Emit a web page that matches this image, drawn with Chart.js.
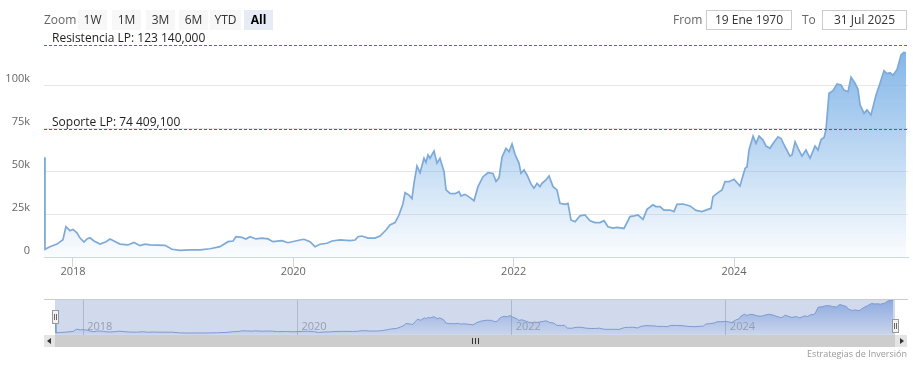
<!DOCTYPE html>
<html>
<head>
<meta charset="utf-8">
<script src="https://cdn.jsdelivr.net/npm/chart.js@4.4.0/dist/chart.umd.min.js"></script>
<style>
  body { margin: 0; background: #fff; font-family: "Open Sans", sans-serif; }
  #wrap { position: relative; width: 920px; height: 365px; overflow: hidden; }
  canvas { position: absolute; left: 0; }
  #main { top: 0; }
  #nav { top: 290px; }
  .lbl { position: absolute; font-size: 12px; color: #666; line-height: 20px; top: 10px; }
  .btn { position: absolute; top: 10px; height: 20px; line-height: 20px; width: 29px; text-align: center;
         font-size: 12px; color: #333; background: #f7f7f7; }
  .btn.sel { background: #e6ebf5; color: #000; font-weight: bold; }
  .inp { position: absolute; top: 10px; height: 18px; line-height: 18px; border: 1px solid #cccccc; text-align: center;
         font-size: 12px; color: #333; }
  #track { position: absolute; left: 44px; top: 335px; width: 863px; height: 12px; background: #cdcdcd; }
  .sbtn { position: absolute; top: 335px; width: 11px; height: 12px; background: #e4e4e4; }
  .arr { position: absolute; top: 3px; width: 0; height: 0; border-top: 3px solid transparent; border-bottom: 3px solid transparent; }
  .grip { position: absolute; top: 338px; width: 1px; height: 6px; background: #333; }
  #credits { position: absolute; right: 13px; top: 347px; font-size: 9px; color: #999; }
</style>
</head>
<body>
<div id="wrap">
  <canvas id="main" width="920" height="290"></canvas>
  <canvas id="nav" width="920" height="60"></canvas>

  <div class="lbl" style="left:44px">Zoom</div>
  <div class="btn" style="left:78px">1W</div>
  <div class="btn" style="left:112px">1M</div>
  <div class="btn" style="left:146px">3M</div>
  <div class="btn" style="left:179px">6M</div>
  <div class="btn" style="left:210px;width:31px">YTD</div>
  <div class="btn sel" style="left:244px">All</div>

  <div class="lbl" style="left:673px">From</div>
  <div class="inp" style="left:706px;width:84px">19 Ene 1970</div>
  <div class="lbl" style="left:802px">To</div>
  <div class="inp" style="left:822px;width:83px">31 Jul 2025</div>

  <div id="track"></div>
  <div class="sbtn" style="left:44px"><div class="arr" style="left:3px;border-right:4px solid #333"></div></div>
  <div class="sbtn" style="left:895px;width:12px"><div class="arr" style="left:5px;border-left:4px solid #333"></div></div>
  <div class="grip" style="left:472px"></div>
  <div class="grip" style="left:475px"></div>
  <div class="grip" style="left:478px"></div>

  <div id="credits">Estrategias de Inversión</div>
</div>

<script>
// Fecha como año decimal, precio en miles
const years = [
  2017.737, 2017.746, 2017.791, 2017.855, 2017.909, 2017.936, 2017.973, 2018.000, 2018.036, 2018.064,
  2018.100, 2018.127, 2018.154, 2018.191, 2018.245, 2018.300, 2018.336, 2018.381, 2018.427, 2018.499,
  2018.554, 2018.608, 2018.654, 2018.699, 2018.835, 2018.899, 2018.971, 2019.062, 2019.153, 2019.244,
  2019.334, 2019.407, 2019.452, 2019.480, 2019.534, 2019.570, 2019.607, 2019.661, 2019.716, 2019.770,
  2019.815, 2019.897, 2019.951, 2020.060, 2020.097, 2020.151, 2020.197, 2020.242, 2020.306, 2020.351,
  2020.424, 2020.514, 2020.560, 2020.587, 2020.623, 2020.678, 2020.741, 2020.787, 2020.841, 2020.877,
  2020.923, 2020.959, 2020.995, 2021.014, 2021.050, 2021.077, 2021.095, 2021.122, 2021.150, 2021.186,
  2021.204, 2021.222, 2021.240, 2021.277, 2021.304, 2021.331, 2021.368, 2021.386, 2021.422, 2021.467,
  2021.504, 2021.522, 2021.558, 2021.604, 2021.640, 2021.676, 2021.722, 2021.767, 2021.812, 2021.840,
  2021.867, 2021.894, 2021.930, 2021.958, 2021.985, 2022.012, 2022.048, 2022.066, 2022.094, 2022.121,
  2022.157, 2022.184, 2022.212, 2022.239, 2022.257, 2022.293, 2022.321, 2022.357, 2022.393, 2022.420,
  2022.466, 2022.493, 2022.520, 2022.557, 2022.602, 2022.647, 2022.693, 2022.738, 2022.784, 2022.820,
  2022.856, 2022.902, 2022.938, 2023.001, 2023.056, 2023.092, 2023.128, 2023.174, 2023.210, 2023.264,
  2023.292, 2023.328, 2023.364, 2023.418, 2023.455, 2023.482, 2023.537, 2023.600, 2023.655, 2023.709,
  2023.764, 2023.791, 2023.809, 2023.855, 2023.891, 2023.918, 2023.955, 2024.000, 2024.054, 2024.100,
  2024.118, 2024.136, 2024.173, 2024.200, 2024.227, 2024.263, 2024.291, 2024.327, 2024.354, 2024.399,
  2024.427, 2024.463, 2024.508, 2024.526, 2024.554, 2024.581, 2024.617, 2024.653, 2024.690, 2024.735,
  2024.762, 2024.790, 2024.817, 2024.835, 2024.862, 2024.898, 2024.935, 2024.971, 2024.998, 2025.035,
  2025.062, 2025.098, 2025.125, 2025.144, 2025.180, 2025.207, 2025.243, 2025.289, 2025.325, 2025.361,
  2025.389, 2025.416, 2025.443, 2025.480, 2025.516, 2025.543, 2025.561
];
const prices = [
  58, 4.5, 6, 7.5, 10, 17.6, 15.3, 16, 14, 11,
  8.7, 10.5, 11.2, 9.3, 7.5, 8.9, 10.5, 9, 7.5, 7,
  8.5, 6.6, 7.5, 7, 6.8, 4.5, 3.9, 4.1, 4.1, 4.8,
  6, 8.9, 9.3, 11.8, 11.4, 10.5, 11.8, 10.5, 11, 10.5,
  8.9, 9.5, 8.3, 9.9, 10.3, 8.9, 6, 7.4, 8, 9.3,
  9.9, 9.5, 9.9, 11.8, 12.2, 11, 11, 12.2, 15.7, 18.6,
  20, 24.4, 31, 37.4, 36, 34, 42.8, 52.9, 49, 57.4,
  55, 59.3, 57.4, 61.6, 54.6, 57.4, 49.6, 39, 37, 36.8,
  38, 35.5, 36.4, 34.5, 32.7, 40.9, 46.7, 49, 48.6, 44,
  46, 58, 63.2, 61.2, 65.7, 59.7, 54.6, 48.7, 50.6, 47.7,
  42.5, 40, 42.8, 40.9, 42.8, 44.8, 47.1, 40.9, 39, 31.2,
  30.6, 31.2, 21.5, 20.5, 23.9, 24.4, 21.1, 20, 20, 21.1,
  17.6, 16.8, 17.2, 16.6, 23.5, 23.9, 24.4, 21.9, 27.7, 30.3,
  29.3, 29.3, 27.3, 27.3, 26.4, 30.6, 30.8, 29.7, 27.1, 26.4,
  27.7, 28.3, 35.1, 37.4, 39, 43.8, 43.8, 45.2, 41.3, 51.5,
  52.5, 62.2, 70.3, 66, 70.3, 68, 64.5, 63.2, 66, 69.9,
  68.9, 64.1, 58.7, 59.3, 67, 63.2, 58.7, 62.2, 57.4, 64.5,
  62.2, 68.3, 69.5, 74.2, 95.2, 96.7, 100.6, 100, 97, 96.1,
  104.5, 101, 97.5, 88.4, 83.5, 85.5, 82.6, 94.2, 101, 108.3,
  106.6, 107.2, 105.7, 109, 117.4, 119, 118.5
];
const yearTicks = [2018, 2020, 2022, 2024];
const priceTicks = [0, 25, 50, 75, 100];
const levelNames = ["Resistencia LP: 123 140,000", "Soporte LP: 74 409,100"];
const levelValues = [123.14, 74.4091];

const X_MIN = 2017.737, X_MAX = 2025.579;
const FONT = "'Open Sans', sans-serif";
const points = years.map((x, i) => ({ x: x, y: prices[i] }));

function areaFill(top, bottom) {
  return function (context) {
    const area = context.chart.chartArea;
    if (!area) return null;
    const g = context.chart.ctx.createLinearGradient(0, area.top, 0, area.bottom);
    g.addColorStop(0, top);
    g.addColorStop(1, bottom);
    return g;
  };
}

// Lineas de soporte / resistencia con su texto
const levelsPlugin = {
  id: "levels",
  afterDatasetsDraw(chart) {
    const ctx = chart.ctx, a = chart.chartArea, y = chart.scales.y;
    const colors = ["#3f8a3f", "#cc3333"];
    levelValues.forEach((v, i) => {
      const py = Math.round(y.getPixelForValue(v)) + 0.5;
      ctx.save();
      ctx.strokeStyle = colors[i];
      ctx.lineWidth = 1;
      ctx.setLineDash([3, 2]);
      ctx.beginPath();
      ctx.moveTo(a.left, py);
      ctx.lineTo(a.right, py);
      ctx.stroke();
      ctx.setLineDash([]);
      ctx.fillStyle = "#222";
      ctx.font = "12px " + FONT;
      ctx.textBaseline = "middle";
      ctx.fillText(levelNames[i], a.left + 8, py - 7);
      ctx.restore();
    });
  }
};

new Chart(document.getElementById("main").getContext("2d"), {
  type: "line",
  data: {
    datasets: [{
      data: points,
      borderColor: "#7eaad8",
      borderWidth: 1.7,
      pointRadius: 0,
      tension: 0,
      fill: "origin",
      backgroundColor: areaFill("rgba(120,175,230,0.95)", "rgba(120,175,230,0.03)"),
    }],
  },
  options: {
    responsive: false,
    animation: false,
    layout: { padding: { top: 42, right: 12, left: 0, bottom: 0 } },
    plugins: { legend: { display: false }, tooltip: { enabled: false } },
    scales: {
      x: {
        type: "linear",
        min: X_MIN,
        max: X_MAX,
        afterBuildTicks: s => { s.ticks = yearTicks.map(v => ({ value: v })); },
        afterFit: s => { s.height = 33; },
        grid: { drawOnChartArea: false, drawTicks: true, tickLength: 10, color: "#ccd6eb" },
        border: { color: "#ccd6eb", width: 1 },
        ticks: { padding: -2, color: "#666", maxRotation: 0, font: { family: FONT, size: 11 }, callback: v => String(v) },
      },
      y: {
        min: 0,
        max: 125,
        afterBuildTicks: s => { s.ticks = priceTicks.map(v => ({ value: v })); },
        afterFit: s => { s.width = 44; },
        grid: { color: "#e6e6e6", drawTicks: false },
        border: { display: false },
        ticks: { padding: 14, labelOffset: -6, color: "#666", font: { family: FONT, size: 11 }, callback: v => v === 0 ? "0" : v + "k" },
      },
    },
  },
  plugins: [levelsPlugin],
});

// Navegador inferior
const navPlugin = {
  id: "navigator",
  beforeDraw(chart) {
    const ctx = chart.ctx, a = chart.chartArea;
    ctx.save();
    ctx.fillStyle = "#d1daed";
    ctx.fillRect(a.left, a.top, a.right - a.left, a.bottom - a.top);
    ctx.restore();
  },
  afterDraw(chart) {
    const ctx = chart.ctx, a = chart.chartArea, x = chart.scales.x;
    ctx.save();
    ctx.strokeStyle = "#cccccc";
    ctx.lineWidth = 1;
    ctx.beginPath();
    ctx.moveTo(44, a.top + 0.5);
    ctx.lineTo(908, a.top + 0.5);
    ctx.stroke();
    ctx.fillStyle = "#959db0";
    ctx.font = "11px " + FONT;
    ctx.textBaseline = "middle";
    yearTicks.forEach(v => ctx.fillText(String(v), x.getPixelForValue(v) + 4, 37));
    // asas
    [[a.left, 20], [a.right, 29]].forEach(([hx, hy]) => {
      ctx.fillStyle = "#f2f2f2";
      ctx.strokeStyle = "#999";
      ctx.fillRect(Math.round(hx) - 3, hy, 6, 13);
      ctx.strokeRect(Math.round(hx) - 3 + 0.5, hy + 0.5, 6, 13);
      ctx.strokeStyle = "#666";
      ctx.beginPath();
      ctx.moveTo(Math.round(hx) - 0.5, hy + 4); ctx.lineTo(Math.round(hx) - 0.5, hy + 10);
      ctx.moveTo(Math.round(hx) + 1.5, hy + 4); ctx.lineTo(Math.round(hx) + 1.5, hy + 10);
      ctx.stroke();
    });
    ctx.restore();
  }
};

new Chart(document.getElementById("nav").getContext("2d"), {
  type: "line",
  data: {
    datasets: [{
      data: points,
      borderColor: "#7f9ad0",
      borderWidth: 1,
      pointRadius: 0,
      tension: 0,
      fill: "origin",
      backgroundColor: areaFill("rgba(70,120,210,0.5)", "rgba(70,120,210,0.05)"),
    }],
  },
  options: {
    responsive: false,
    animation: false,
    layout: { padding: { top: 9, right: 25, left: 55, bottom: 15 } },
    plugins: { legend: { display: false }, tooltip: { enabled: false } },
    scales: {
      x: {
        type: "linear",
        min: X_MIN,
        max: X_MAX,
        afterBuildTicks: s => { s.ticks = yearTicks.map(v => ({ value: v })); },
        afterFit: s => { s.height = 0; },
        grid: { drawOnChartArea: true, drawTicks: false, color: "rgba(110,120,150,0.35)" },
        border: { display: false },
        ticks: { display: false },
      },
      y: { display: false, min: -3, max: 124 },
    },
  },
  plugins: [navPlugin],
});
</script>
</body>
</html>
